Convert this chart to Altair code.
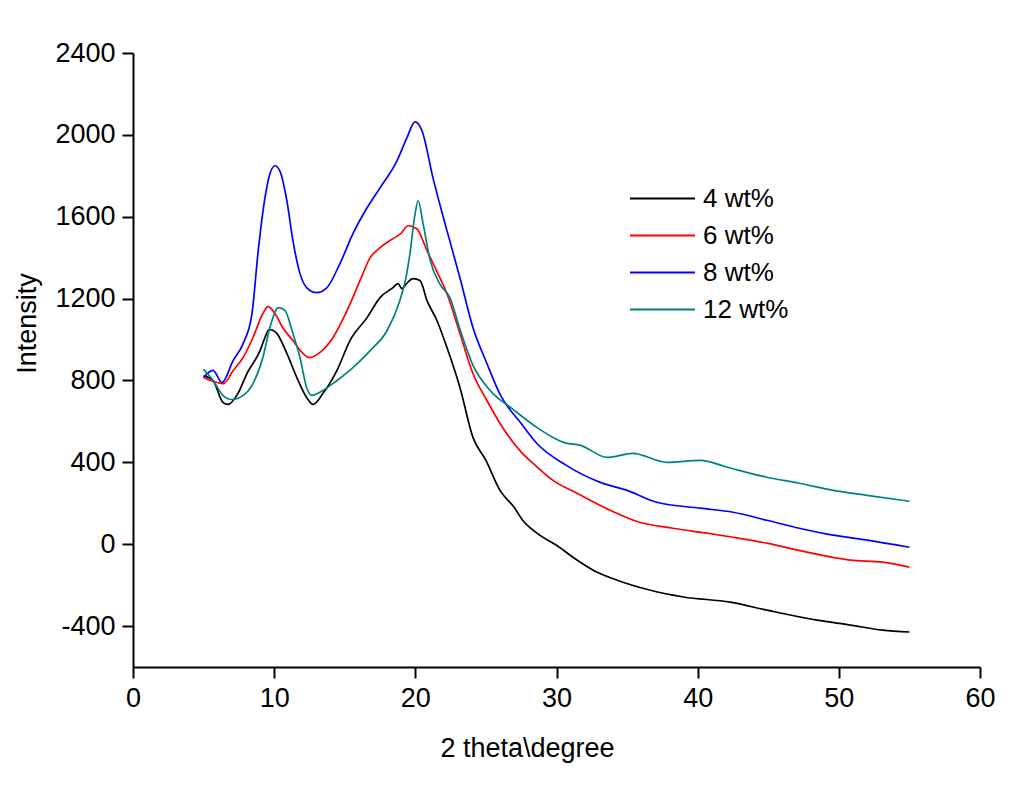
import altair as alt
import pandas as pd

series_names = ["4 wt%", "6 wt%", "8 wt%", "12 wt%"]
series_colors = ["#000000", "#FF0000", "#0000FF", "#008080"]

x_4 = [5.0, 5.67, 6.37, 6.73, 7.44, 8.07, 9.0, 9.35, 9.63, 9.9, 10.2, 10.9, 11.6, 12.3, 12.75, 13.46, 14.45,
       15.37, 16.58, 17.5, 18.42, 18.77, 19.05, 19.4, 19.83, 20.33, 20.83, 21.53, 22.24, 23.16, 24.08,
       25.0, 26.0, 27.0, 27.6, 28.5, 30.2, 31.5, 32.6, 34.3, 36.6, 39.0, 42.3, 44.9, 48.45, 50.8, 53.1, 55.0]
y_4 = [824, 800, 693, 683, 737, 834, 946, 1010, 1049, 1045, 1029, 932, 815, 717, 683, 737, 849,
       995, 1107, 1205, 1254, 1273, 1249, 1275, 1298, 1288, 1190, 1093, 961, 766, 522,
       410, 263, 180, 117, 60, -15, -80, -127, -176, -224, -258, -283, -322, -371, -395, -420, -429]

x_6 = [5.0, 5.5, 6.4, 7.1, 7.8, 8.5, 9.2, 9.56, 10.06, 10.6, 11.33, 12.04, 12.5, 13.25, 14.17,
       15.16, 16.08, 16.8, 17.5, 18.42, 19.0, 19.48, 20.1, 20.83, 21.5, 22.24, 23.16, 24.08, 25.07,
       26.0, 27.5, 28.5, 29.75, 31.45, 33.8, 35.9, 38.25, 40.66, 42.5, 44.9, 47.74, 50.8, 53.1, 55.0]
y_6 = [815, 800, 785, 849, 912, 1010, 1127, 1161, 1127, 1059, 995, 932, 912, 937, 1010,
       1141, 1288, 1400, 1449, 1493, 1520, 1556, 1541, 1434, 1337, 1224, 1029, 834, 702,
       590, 450, 385, 312, 249, 166, 107, 78, 54, 34, 5, -39, -78, -88, -112]

x_8 = [5.0, 5.67, 6.3, 7.1, 7.8, 8.43, 8.85, 9.35, 9.7, 10.06, 10.4, 10.9, 11.33, 11.83, 12.3,
       13.0, 13.74, 14.66, 15.58, 16.58, 17.5, 18.7, 19.4, 19.98, 20.47, 21.25, 22.24, 23.16,
       24.08, 25.07, 26.0, 27.5, 28.6, 30.7, 33.1, 35.0, 37.1, 40.2, 42.5, 44.9, 47.2, 49.6, 52.0, 55.0]
y_8 = [815, 849, 790, 898, 980, 1127, 1420, 1693, 1810, 1849, 1824, 1678, 1483, 1322, 1254,
       1229, 1254, 1371, 1517, 1644, 1741, 1873, 1985, 2063, 2020, 1790, 1532, 1302,
       1059, 883, 732, 590, 493, 385, 302, 263, 205, 176, 156, 117, 78, 44, 20, -15]

x_12 = [5.0, 5.67, 6.37, 7.0, 7.8, 8.5, 9.2, 9.7, 10.3, 10.77, 11.33, 11.83, 12.3, 12.67, 13.46,
        14.45, 15.58, 16.8, 18.0, 18.9, 19.3, 19.62, 19.95, 20.2, 20.55, 21.04, 21.75, 22.45, 23.16, 24.08,
        25.3, 26.9, 28.6, 30.6, 31.7, 33.6, 35.4, 37.8, 40.2, 42.1, 44.9, 47.2, 49.6, 52.0, 55.0]
y_12 = [854, 800, 727, 707, 727, 785, 912, 1059, 1156, 1141, 1029, 912, 766, 727, 751,
        800, 863, 946, 1044, 1190, 1290, 1420, 1600, 1678, 1566, 1390, 1270, 1205, 1050, 875,
        751, 660, 571, 495, 483, 424, 444, 400, 410, 376, 327, 298, 263, 239, 210]

x_ticks = [0, 10, 20, 30, 40, 50, 60]
y_ticks = [-400, 0, 400, 800, 1200, 1600, 2000, 2400]

rows = []
for name, xs, ys in zip(series_names, [x_4, x_6, x_8, x_12], [y_4, y_6, y_8, y_12]):
    for i, (a, b) in enumerate(zip(xs, ys)):
        rows.append({"series": name, "theta": a, "intensity": b, "i": i})
df = pd.DataFrame(rows)

FONT = "Liberation Sans"

chart = alt.Chart(df).mark_line(strokeWidth=1.7, interpolate="monotone").encode(
    x=alt.X("theta:Q",
            scale=alt.Scale(domain=[0, 60], nice=False),
            axis=alt.Axis(values=x_ticks, title="2 theta\\degree", grid=False,
                          labelExpr="'' + datum.value", labelFlush=False,
                          titleX=394, titleY=81, titleBaseline="middle", titleAlign="center")),
    y=alt.Y("intensity:Q",
            scale=alt.Scale(domain=[-600, 2400], nice=False, zero=False),
            axis=alt.Axis(values=y_ticks, title="Intensity", grid=False,
                          labelExpr="'' + datum.value", labelFlush=False,
                          titleX=-106, titleY=270, titleAngle=-90,
                          titleBaseline="middle", titleAlign="center")),
    color=alt.Color("series:N",
                    scale=alt.Scale(domain=series_names, range=series_colors),
                    legend=alt.Legend(title=None, orient="none", legendX=496, legendY=133,
                                      symbolType="stroke", symbolSize=4225, clipHeight=25,
                                      symbolStrokeWidth=2, labelFontSize=26, labelFont=FONT,
                                      labelColor="#000000", labelOffset=7, rowPadding=10,
                                      padding=0)),
    order="i:Q",
).properties(
    width=847, height=614,
    autosize=alt.AutoSizeParams(type="none"),
    padding={"left": 125, "top": 45, "right": 40, "bottom": 121},
    background="white",
).configure_view(stroke=None).configure_axis(
    domainColor="#000000", domainWidth=2, tickColor="#000000", tickWidth=2, tickSize=11,
    labelFont=FONT, labelFontSize=27, labelColor="#000000", labelPadding=7,
    titleFont=FONT, titleFontSize=27, titleColor="#000000", titleFontWeight="normal",
)

chart.save("out.html", embed_options={"renderer": "svg", "actions": False})
